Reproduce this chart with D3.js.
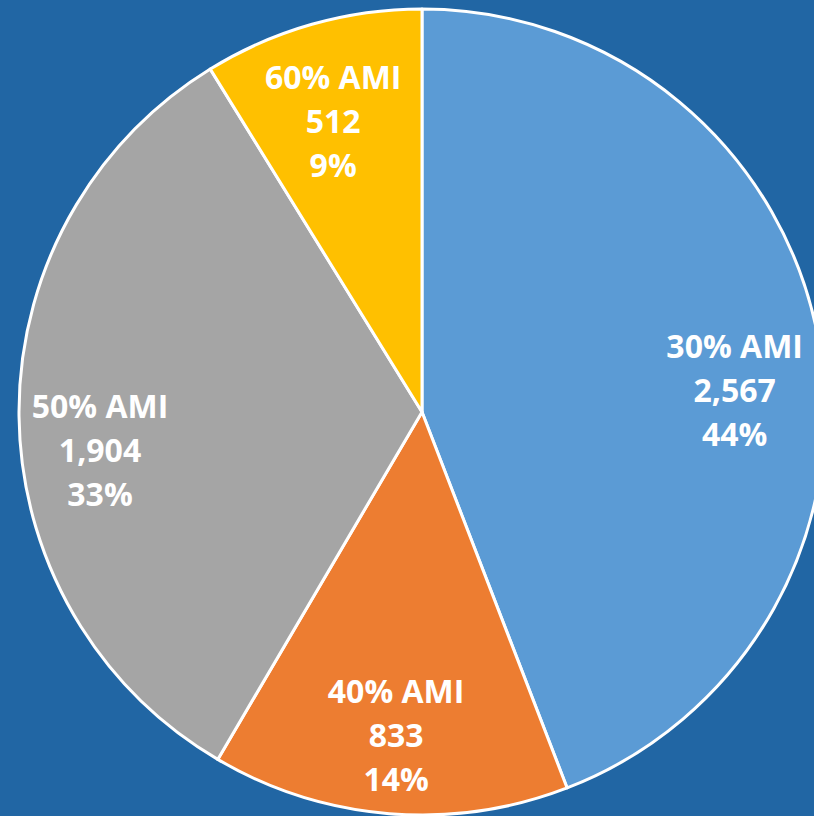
<!DOCTYPE html>
<html>
<head>
<meta charset="utf-8">
<script src="https://cdn.jsdelivr.net/npm/d3@7"></script>
<style>
  html, body { margin: 0; padding: 0; background: #2166a4; }
  svg { display: block; }
</style>
</head>
<body>
<svg width="814" height="816"></svg>
<script>
const categories = ["30% AMI", "40% AMI", "50% AMI", "60% AMI"];
const units = [2567, 833, 1904, 512];
const colors = ["#5b9bd5", "#ed7d31", "#a5a5a5", "#ffc000"];

const svg = d3.select("svg");
const cx = 422, cy = 412, radius = 403;

const total = d3.sum(units);
const data = categories.map((c, i) => ({ name: c, value: units[i], color: colors[i] }));

const pie = d3.pie().value(d => d.value).sort(null);
const arc = d3.arc().innerRadius(0).outerRadius(radius);
const labelArc = d3.arc().innerRadius(318).outerRadius(318);

// Excel moves a few labels a bit off the centroid
const labelNudge = [[0, 37], [0, 7], [-4, 36], [-2, 16]];

const g = svg.append("g").attr("transform", `translate(${cx},${cy})`);

const arcs = pie(data);

g.selectAll("path")
  .data(arcs)
  .enter().append("path")
  .attr("d", arc)
  .attr("fill", d => d.data.color)
  .attr("stroke", "#fff")
  .attr("stroke-width", 3)
  .attr("stroke-linejoin", "round");

const fmt = d3.format(",");
const pct = d3.format(".0%");

const labels = g.selectAll(".lbl")
  .data(arcs)
  .enter().append("text")
  .attr("class", "lbl")
  .attr("transform", (d, i) => {
    const [x, y] = labelArc.centroid(d);
    return `translate(${x + labelNudge[i][0]},${y + labelNudge[i][1]})`;
  })
  .attr("text-anchor", "middle")
  .attr("fill", "#fff")
  .style("font-family", "'Open Sans', sans-serif")
  .style("font-weight", "bold")
  .style("font-size", "32px");

labels.each(function(d) {
  const t = d3.select(this);
  const lines = [d.data.name, fmt(d.data.value), pct(d.data.value / total)];
  lines.forEach((s, k) => {
    t.append("tspan")
      .attr("x", 0)
      .attr("y", (k - 1) * 44 + 11)
      .text(s);
  });
});
</script>
</body>
</html>
